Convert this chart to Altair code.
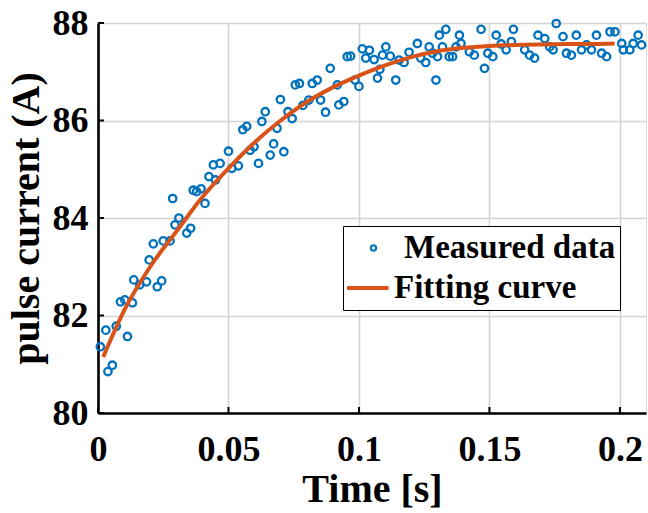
import altair as alt
import pandas as pd

t_meas = [
    0.0009, 0.0030, 0.0038, 0.0055, 0.0070, 0.0086, 0.0103, 0.0113, 0.0132, 0.0137,
    0.0160, 0.0186, 0.0196, 0.0212, 0.0227, 0.0244, 0.0250, 0.0276, 0.0286, 0.0295,
    0.0310, 0.0340, 0.0355, 0.0365, 0.0378, 0.0395, 0.0410, 0.0425, 0.0442, 0.0450,
    0.0468, 0.0500, 0.0513, 0.0538, 0.0555, 0.0570, 0.0583, 0.0598, 0.0615, 0.0628,
    0.0641, 0.0660, 0.0673, 0.0686, 0.0699, 0.0712, 0.0728, 0.0744, 0.0756, 0.0772,
    0.0785, 0.0808, 0.0821, 0.0840, 0.0853, 0.0872, 0.0890, 0.0917, 0.0923, 0.0942,
    0.0955, 0.0968, 0.0985, 0.1000, 0.1013, 0.1026, 0.1040, 0.1058, 0.1071, 0.1080,
    0.1090, 0.1103, 0.1120, 0.1141, 0.1154, 0.1173, 0.1192, 0.1224, 0.1237, 0.1256,
    0.1269, 0.1282, 0.1295, 0.1301, 0.1308, 0.1320, 0.1333, 0.1346, 0.1359, 0.1372,
    0.1385, 0.1391, 0.1423, 0.1442, 0.1468, 0.1481, 0.1494, 0.1513, 0.1526, 0.1545,
    0.1564, 0.1584, 0.1592, 0.1635, 0.1654, 0.1673, 0.1686, 0.1712, 0.1731, 0.1744,
    0.1756, 0.1782, 0.1795, 0.1814, 0.1833, 0.1853, 0.1872, 0.1891, 0.1910, 0.1930,
    0.1949, 0.1962, 0.1981, 0.2007, 0.2013, 0.2038, 0.2051, 0.2070, 0.2083,
]
i_meas = [
    81.36, 81.70, 80.85, 80.98, 81.78, 82.28, 82.32, 81.57, 82.26, 82.73,
    82.63, 82.69, 83.14, 83.47, 82.59, 82.71, 83.53, 83.53, 84.40, 83.86,
    84.00, 83.69, 83.79, 84.57, 84.54, 84.60, 84.30, 84.85, 85.09, 84.78,
    85.12, 85.37, 85.02, 85.07, 85.81, 85.88, 85.39, 85.46, 85.12, 85.98,
    86.18, 85.29, 85.52, 85.84, 86.43, 85.36, 86.18, 86.04, 86.73, 86.76,
    86.31, 86.42, 86.76, 86.83, 86.42, 86.17, 87.07, 86.73, 86.32, 86.39,
    87.31, 87.32, 86.83, 86.70, 87.47, 87.28, 87.44, 87.25, 86.87, 87.05,
    87.34, 87.51, 87.32, 86.83, 87.24, 87.19, 87.40, 87.58, 87.28, 87.19,
    87.51, 87.38, 86.83, 87.31, 87.75, 87.51, 87.87, 87.31, 87.31, 87.51,
    87.75, 87.58, 87.41, 87.34, 87.87, 87.07, 87.38, 87.31, 87.75, 87.57,
    87.45, 87.62, 87.87, 87.45, 87.34, 87.28, 87.75, 87.68, 87.51, 87.45,
    87.99, 87.72, 87.38, 87.34, 87.75, 87.45, 87.55, 87.45, 87.75, 87.38,
    87.31, 87.82, 87.82, 87.58, 87.45, 87.45, 87.58, 87.75, 87.55,
]

# Fitting curve
t_fit = [0.002, 0.01, 0.02, 0.03, 0.04, 0.05, 0.06, 0.07, 0.08, 0.09, 0.10,
         0.11, 0.12, 0.13, 0.14, 0.15, 0.16, 0.17, 0.18, 0.19, 0.198]
i_fit = [81.15, 82.10, 83.00, 83.72, 84.43, 85.02, 85.55, 86.00, 86.38, 86.68, 86.92,
         87.13, 87.30, 87.42, 87.49, 87.53, 87.55, 87.56, 87.57, 87.57, 87.58]

series_names = ["Measured data", "Fitting curve"]
series_colors = ["#0072BD", "#D95319"]
x_ticks = [0, 0.05, 0.1, 0.15, 0.2]
y_ticks = [80, 82, 84, 86, 88]

W, H = 548, 390
FONT = "Liberation Serif"

meas = pd.DataFrame({"t": t_meas, "i": i_meas, "series": series_names[0]})
fit = pd.DataFrame({"t": t_fit, "i": i_fit, "series": series_names[1]})

xscale = alt.Scale(domain=[0, 0.21], nice=False, zero=False)
yscale = alt.Scale(domain=[80, 88], nice=False, zero=False)

is_meas = "datum.value === 'Measured data'"
color = alt.Color(
    "series:N",
    scale=alt.Scale(domain=series_names, range=series_colors),
    legend=alt.Legend(
        title=None,
        orient="none",
        legendX=245,
        legendY=203,
        direction="vertical",
        padding=4,
        clipHeight=36,
        rowPadding=4,
        symbolType={"expr": f"{is_meas} ? 'circle' : 'stroke'"},
        symbolSize={"expr": f"{is_meas} ? 30 : 2500"},
        symbolStrokeWidth={"expr": f"{is_meas} ? 2.2 : 4"},
        symbolOffset={"expr": f"{is_meas} ? 10 : 0"},
        symbolFillColor="transparent",
        symbolOpacity=1,
        labelOffset=14,
        labelFont=FONT,
        labelFontSize=33,
        labelFontWeight="bold",
        labelColor="black",
        labelLimit=400,
        strokeColor="black",
        fillColor="white",
    ),
)

axis_style = dict(
    labelFont=FONT, labelFontSize=36, labelFontWeight="bold", labelColor="black",
    titleFont=FONT, titleFontSize=40, titleFontWeight="bold", titleColor="black",
    domainColor="black", domainWidth=2.6, ticks=False,
    gridColor="#d4d4d4", gridWidth=1.6,
    labelOverlap=False, labelFlush=False,
)

x_axis = alt.Axis(
    values=x_ticks, format="~g", title="Time [s]",
    labelPadding=19, titleY=76, titleBaseline="middle", **axis_style,
)
y_axis = alt.Axis(
    values=y_ticks, format="d", title="pulse current (A)",
    labelPadding=10, titlePadding=6, **axis_style,
)

points = alt.Chart(meas).mark_point(filled=False, size=55, strokeWidth=2.3, opacity=1).encode(
    x=alt.X("t:Q", scale=xscale, axis=x_axis),
    y=alt.Y("i:Q", scale=yscale, axis=y_axis),
    color=color,
)

curve = alt.Chart(fit).mark_line(strokeWidth=4, interpolate="monotone").encode(
    x=alt.X("t:Q", scale=xscale),
    y=alt.Y("i:Q", scale=yscale),
    color=color,
)

xt = alt.Chart(pd.DataFrame({"v": x_ticks})).mark_rule(color="black", strokeWidth=2).encode(
    x=alt.X("v:Q", scale=xscale), y=alt.value(H), y2=alt.value(H - 6)
)
yt = alt.Chart(pd.DataFrame({"v": y_ticks})).mark_rule(color="black", strokeWidth=2).encode(
    y=alt.Y("v:Q", scale=yscale), x=alt.value(0), x2=alt.value(6)
)

chart = alt.layer(points, curve, xt, yt).properties(
    width=W, height=H,
    autosize=alt.AutoSizeParams(type="none"),
    padding={"left": 98, "top": 23, "right": 2, "bottom": 100},
).configure_view(stroke=None).configure(background="white")

chart.save("out.html", embed_options={"renderer": "svg", "actions": False})
